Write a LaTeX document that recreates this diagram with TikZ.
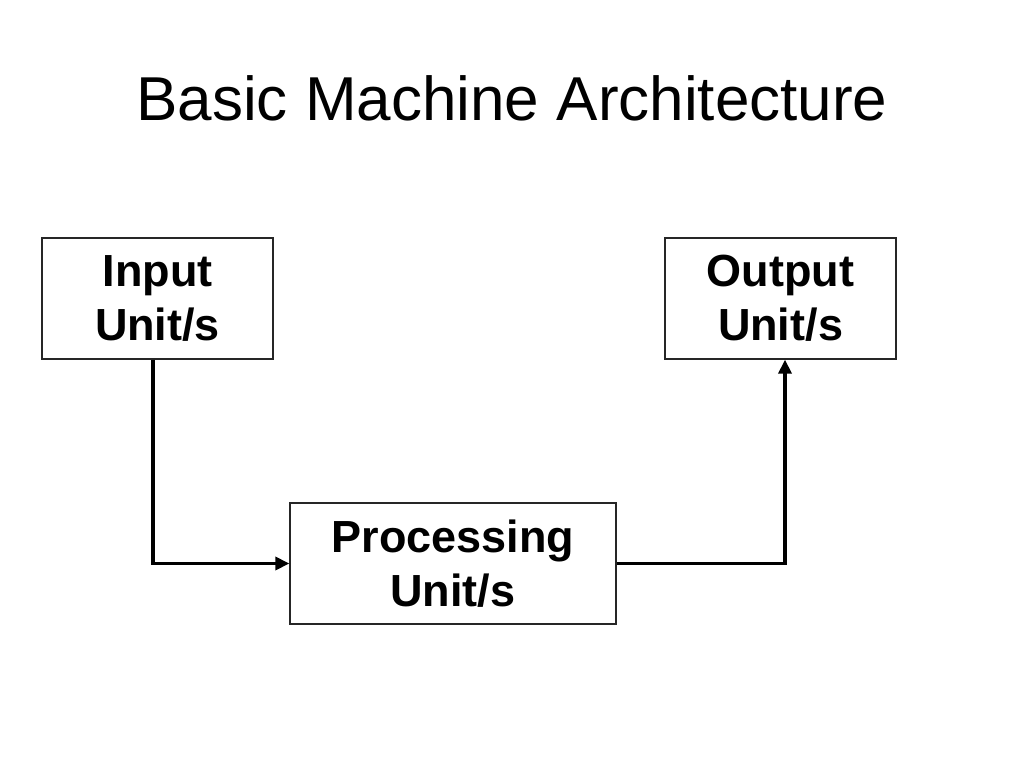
\documentclass[tikz,border=0pt]{standalone}
\usepackage{fontspec}
\setmainfont{Liberation Sans}
\usetikzlibrary{arrows.meta}
\begin{document}
\begin{tikzpicture}[x=1pt,y=-1pt,
  unitbox/.style={draw=black!85,line width=1.3pt,fill=white,align=center,
    font=\bfseries\fontsize{45}{54}\selectfont,inner sep=0pt},
  flow/.style={line width=3.6pt,-{Triangle[length=14pt,width=13pt]}}]
\useasboundingbox[fill=white] (0,0) rectangle (1024,768);
\node[font=\fontsize{62}{70}\selectfont] (title) at (512,98) {Basic Machine Architecture};
\node[unitbox,minimum width=231pt,minimum height=121pt] (in) at (157.5,298.5) {Input\\Unit/s};
\node[unitbox,minimum width=231pt,minimum height=121pt] (out) at (780.5,298.5) {Output\\Unit/s};
\node[unitbox,minimum width=326pt,minimum height=121pt] (proc) at (453,563.5) {Processing\\Unit/s};
\draw[flow] ([xshift=-4.5pt]in.south) |- (proc.west);
\draw[flow] (proc.east) -| ([xshift=4.5pt]out.south);
\end{tikzpicture}
\end{document}
